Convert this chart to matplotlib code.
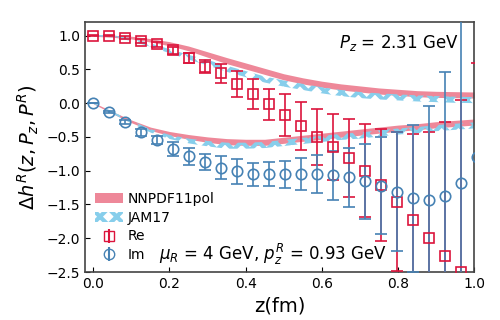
import numpy as np
import matplotlib
matplotlib.use("Agg")
import matplotlib.pyplot as plt
from matplotlib.patches import Patch

plt.rcParams['hatch.linewidth'] = 3.0

# ---- data ----
a = 0.042
n = np.arange(25)
z_lat = n * a

re_val = [1.0, 1.0, 0.97, 0.92, 0.87, 0.78, 0.67, 0.54, 0.44, 0.28, 0.13, -0.02,
          -0.18, -0.34, -0.50, -0.65, -0.81, -1.00, -1.21, -1.46, -1.73, -2.00,
          -2.27, -2.50, -2.80]
re_err = [0.01, 0.01, 0.02, 0.03, 0.04, 0.05, 0.07, 0.10, 0.14, 0.19, 0.22, 0.23,
          0.31, 0.36, 0.42, 0.49, 0.58, 0.69, 0.83, 1.03, 1.27, 1.58,
          1.99, 2.55, 3.40]
im_val = [0.0, -0.13, -0.28, -0.43, -0.55, -0.68, -0.79, -0.87, -0.96, -1.01,
          -1.05, -1.05, -1.05, -1.05, -1.05, -1.07, -1.10, -1.16, -1.22, -1.31,
          -1.41, -1.44, -1.37, -1.18, -0.80]
im_err = [0.005, 0.02, 0.03, 0.05, 0.06, 0.11, 0.12, 0.12, 0.17, 0.19,
          0.17, 0.18, 0.20, 0.24, 0.28, 0.36, 0.44, 0.56, 0.72, 0.88,
          1.09, 1.40, 1.83, 2.80, 3.50]

z_band = np.linspace(0, 1.0, 21)
nn_re = [1.0, 0.99, 0.97, 0.93, 0.88, 0.81, 0.72, 0.63, 0.55, 0.47, 0.39,
         0.33, 0.28, 0.24, 0.21, 0.18, 0.16, 0.14, 0.13, 0.125, 0.12]
nn_re_w = [0.01, 0.015, 0.02, 0.025, 0.03, 0.035, 0.04, 0.045, 0.045, 0.045, 0.045,
           0.045, 0.045, 0.045, 0.045, 0.045, 0.045, 0.045, 0.045, 0.045, 0.045]
jam_re = [1.0, 0.99, 0.94, 0.86, 0.77, 0.68, 0.60, 0.51, 0.43, 0.35, 0.29,
          0.24, 0.19, 0.15, 0.12, 0.10, 0.085, 0.07, 0.06, 0.05, 0.045]
jam_re_w = [0.01, 0.015, 0.02, 0.025, 0.03, 0.035, 0.04, 0.045, 0.045, 0.045, 0.045,
            0.045, 0.045, 0.045, 0.045, 0.045, 0.045, 0.045, 0.045, 0.045, 0.045]
nn_im = [0.0, -0.14, -0.27, -0.38, -0.45, -0.50, -0.54, -0.57, -0.58, -0.58, -0.55,
         -0.52, -0.49, -0.46, -0.43, -0.40, -0.37, -0.35, -0.32, -0.30, -0.28]
nn_im_w = [0.01, 0.015, 0.02, 0.025, 0.03, 0.035, 0.04, 0.045, 0.045, 0.045, 0.045,
           0.045, 0.045, 0.045, 0.045, 0.045, 0.045, 0.045, 0.045, 0.045, 0.045]
jam_im = [0.0, -0.14, -0.28, -0.41, -0.50, -0.56, -0.60, -0.63, -0.63, -0.62, -0.59,
          -0.56, -0.53, -0.50, -0.48, -0.45, -0.42, -0.40, -0.37, -0.35, -0.33]
jam_im_w = [0.01, 0.015, 0.02, 0.025, 0.03, 0.035, 0.04, 0.045, 0.045, 0.045, 0.045,
            0.045, 0.045, 0.045, 0.045, 0.045, 0.045, 0.045, 0.045, 0.045, 0.045]

# ---- plot ----
pink = '#ee8899'
sky = '#87ceeb'
red = '#dc143c'
blue = '#4682b4'

fig = plt.figure(figsize=(5, 3.2), dpi=100)
ax = fig.add_axes([0.17, 0.15, 0.778, 0.781])

for c, w in ((nn_re, nn_re_w), (nn_im, nn_im_w)):
    c = np.array(c); w = np.array(w)
    ax.fill_between(z_band, c - w, c + w, color=pink, lw=0, zorder=1)
for c, w in ((jam_re, jam_re_w), (jam_im, jam_im_w)):
    c = np.array(c); w = np.array(w)
    ax.fill_between(z_band, c - w, c + w, facecolor='none', edgecolor=sky,
                    hatch='xx', lw=0, zorder=1.5)

ax.errorbar(z_lat, re_val, yerr=re_err, fmt='s', mfc='none', mec=red, ecolor=red,
            ms=7.5, mew=1.2, elinewidth=1.2, capsize=4, capthick=1.2, zorder=3)
ax.errorbar(z_lat, im_val, yerr=im_err, fmt='o', mfc='none', mec=blue, ecolor=blue,
            ms=7.5, mew=1.2, elinewidth=1.2, capsize=4, capthick=1.2, zorder=3)

ax.set_xlim(-0.022, 1.0)
ax.set_ylim(-2.5, 1.2)
ax.set_xticks([0.0, 0.2, 0.4, 0.6, 0.8, 1.0])
ax.set_yticks([-2.5, -2.0, -1.5, -1.0, -0.5, 0.0, 0.5, 1.0])
ax.tick_params(direction='in', labelsize=10)
for s in ax.spines.values():
    s.set_color('#444444')
    s.set_linewidth(1.2)

ax.set_xlabel('z(fm)', fontsize=14)
ax.set_ylabel(r'$\Delta h^R(z, P_z, P^R)$', fontsize=14)

ax.text(0.96, 0.955, r'$P_z$ = 2.31 GeV', transform=ax.transAxes, fontsize=12,
        ha='right', va='top')
ax.text(0.19, 0.07, r'$\mu_R$ = 4 GeV, $p_z^R$ = 0.93 GeV', transform=ax.transAxes,
        fontsize=12, ha='left', va='center')

h_nn = Patch(facecolor=pink, edgecolor='none', label='NNPDF11pol')
h_jam = Patch(facecolor='none', edgecolor=sky, hatch='xx', lw=0, label='JAM17')
h_re = ax.errorbar([], [], yerr=[], fmt='s', mfc='none', mec=red, ecolor=red, ms=7.5,
                   capsize=4, label='Re')
h_im = ax.errorbar([], [], yerr=[], fmt='o', mfc='none', mec=blue, ecolor=blue, ms=7.5,
                   capsize=4, label='Im')
ax.legend(handles=[h_nn, h_jam, h_re, h_im], loc='lower left', frameon=False,
          fontsize=10, handlelength=2.0, borderaxespad=0.3, labelspacing=0.35,
          handletextpad=0.4)

fig.savefig('out.png', dpi=100)
